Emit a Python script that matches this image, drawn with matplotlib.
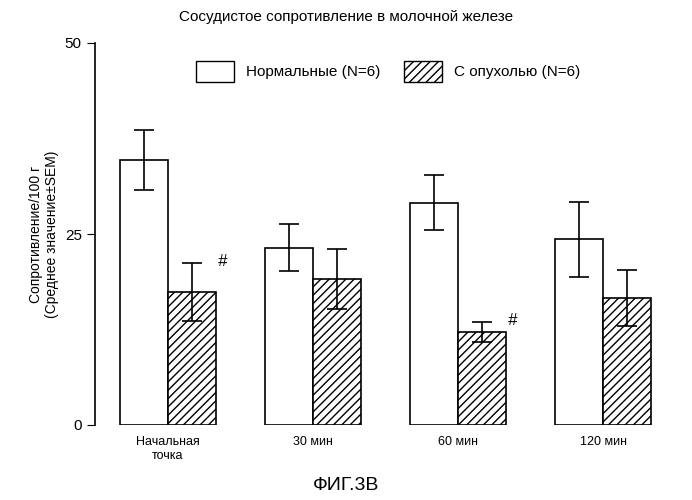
import numpy as np
import matplotlib.pyplot as plt
from matplotlib.patches import Patch

plt.rcParams["font.family"] = "Liberation Sans"
plt.rcParams["hatch.linewidth"] = 1.0

# data
groups = ["Начальная\nточка", "30 мин", "60 мин", "120 мин"]
normal = [34.7, 23.2, 29.1, 24.3]
normal_err = [3.9, 3.1, 3.6, 4.9]
tumor = [17.4, 19.1, 12.2, 16.6]
tumor_err = [3.8, 3.9, 1.3, 3.7]
marks = ["#", "", "#", ""]

fig = plt.figure(figsize=(6.92, 5.0), dpi=100)
ax = fig.add_axes([95 / 692, 75 / 500, 575 / 692, 382 / 500])

x = np.arange(len(groups))
w = 0.33
ax.bar(x - w / 2, normal, w, color="white", edgecolor="black", linewidth=1.2,
       yerr=normal_err, error_kw=dict(capsize=7, elinewidth=1.2, capthick=1.2))
ax.bar(x + w / 2, tumor, w, color="white", edgecolor="black", linewidth=1.2,
       hatch="////", yerr=tumor_err,
       error_kw=dict(capsize=7, elinewidth=1.2, capthick=1.2))
for xi, t, e, m in zip(x, tumor, tumor_err, marks):
    if m:
        ax.text(xi + w + 0.01, t + e - 0.8, m, fontsize=12,
                style="italic", ha="left", va="bottom")

ax.set_xlim(-0.503, 3.46)
ax.set_ylim(0, 50)
ax.set_yticks([0, 25, 50])
ax.set_xticks(x)
ax.set_xticklabels(groups, fontsize=9)
ax.tick_params(axis="x", length=0, pad=8)
ax.tick_params(axis="y", direction="out", length=6, labelsize=11)
for s in ["top", "right", "bottom"]:
    ax.spines[s].set_visible(False)
ax.spines["left"].set_linewidth(1.2)

ax.set_ylabel("Сопротивление/100 г\n(Среднее значение±SEM)", fontsize=10)
fig.text(0.5, 0.965, "Сосудистое сопротивление в молочной железе",
         ha="center", va="center", fontsize=11)
fig.text(0.5, 0.03, "ФИГ.3В", ha="center", va="center", fontsize=14)

handles = [Patch(facecolor="white", edgecolor="black", label="Нормальные (N=6)"),
           Patch(facecolor="white", edgecolor="black", hatch="////",
                 label="С опухолью (N=6)")]
ax.legend(handles=handles, loc="upper center", bbox_to_anchor=(0.51, 0.99),
          ncol=2, frameon=False, fontsize=11, handlelength=2.5,
          handleheight=1.8, columnspacing=1.5)

fig.savefig("out.png", dpi=100)
